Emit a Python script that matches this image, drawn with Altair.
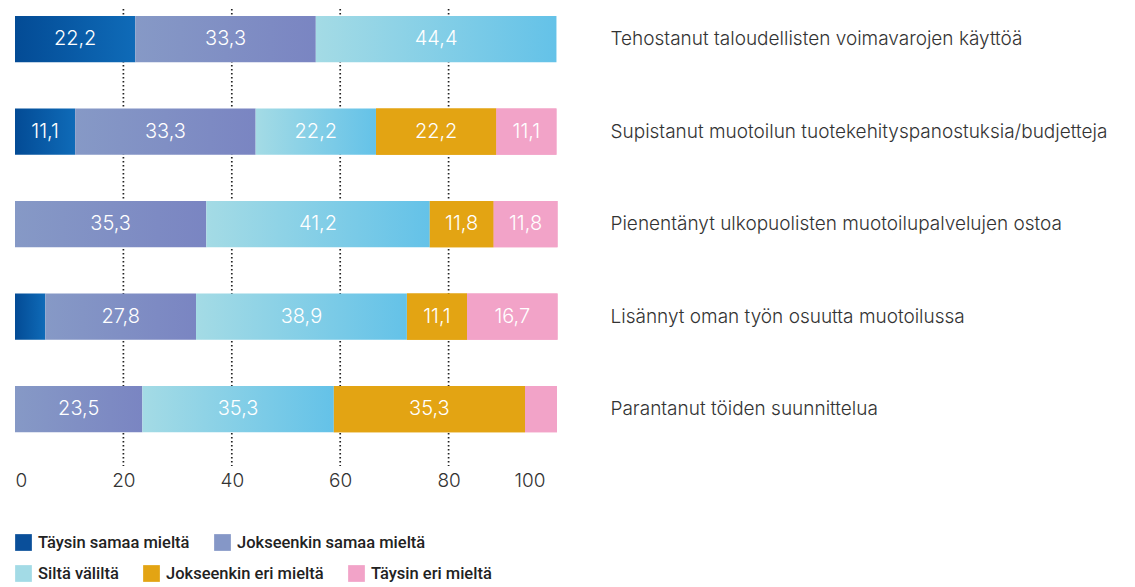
import altair as alt
import pandas as pd

categories = [
    "Tehostanut taloudellisten voimavarojen käyttöä",
    "Supistanut muotoilun tuotekehityspanostuksia/budjetteja",
    "Pienentänyt ulkopuolisten muotoilupalvelujen ostoa",
    "Lisännyt oman työn osuutta muotoilussa",
    "Parantanut töiden suunnittelua",
]
series = [
    "Täysin samaa mieltä",
    "Jokseenkin samaa mieltä",
    "Siltä väliltä",
    "Jokseenkin eri mieltä",
    "Täysin eri mieltä",
]
taysin_samaa = [22.2, 11.1, 0.0, 5.6, 0.0]
jokseenkin_samaa = [33.3, 33.3, 35.3, 27.8, 23.5]
silta_valilta = [44.4, 22.2, 41.2, 38.9, 35.3]
jokseenkin_eri = [0.0, 22.2, 11.8, 11.1, 35.3]
taysin_eri = [0.0, 11.1, 11.8, 16.7, 5.9]
x_ticks = [0, 20, 40, 60, 80, 100]
grid_vals = [20, 40, 60, 80]

flat_colors = ["#0a4f9a", "#8597c7", "#a3dbe6", "#e3a413", "#f2a3c8"]
gradients = {
    "Täysin samaa mieltä": ("#034b95", "#0f6bb8"),
    "Jokseenkin samaa mieltä": ("#8699c6", "#7a85c2"),
    "Siltä väliltä": ("#a4dbe5", "#64c2e8"),
}

rows = []
for vals, s in zip([taysin_samaa, jokseenkin_samaa, silta_valilta, jokseenkin_eri, taysin_eri], series):
    for c, v in zip(categories, vals):
        rows.append({"category": c, "series": s, "value": v, "order": series.index(s)})
df = pd.DataFrame(rows)

FONT = "Inter"
LEG_FONT = "Roboto"

y_enc = alt.Y(
    "category:N",
    sort=categories,
    scale=alt.Scale(paddingInner=0.5, paddingOuter=0.22, align=0.17),
    axis=alt.Axis(
        orient="right", title=None, domain=False, ticks=False, labelPadding=53,
        labelFontSize=19, labelFont=FONT, labelFontWeight=300, labelColor="#333333",
        labelLimit=700,
    ),
)
x_scale = alt.Scale(domain=[0, 100], nice=False, zero=True)
x_axis = alt.Axis(
    values=x_ticks, title=None, grid=False, domain=False, ticks=False, labelFlush=True,
    labelFontSize=19, labelFont=FONT, labelFontWeight=300, labelColor="#333333",
    labelPadding=5,
    labelOffset={"condition": {"test": "datum.value === 100", "value": -12}, "value": 0},
)

base = alt.Chart(df).transform_stack(
    stack="value", groupby=["category"], as_=["x0", "x1"],
    sort=[alt.SortField("order", order="ascending")],
)

rules = alt.Chart(pd.DataFrame({"v": grid_vals})).mark_rule(
    color="#222222", strokeDash=[1.6, 2.4], strokeWidth=1.7
).encode(x=alt.X("v:Q", scale=x_scale, axis=x_axis))

flat_filter = alt.FieldOneOfPredicate(field="series", oneOf=series[3:])

legend_style = dict(
    orient="none", legendX=0, direction="horizontal",
    symbolType="square", symbolSize=280, symbolStrokeWidth=0, symbolOpacity=1,
    labelFontSize=16.5, labelFont=LEG_FONT, labelFontWeight=500, labelColor="#222222",
    labelOffset=6, columnPadding=24, labelLimit=400,
)

bars_b = base.transform_filter(flat_filter).mark_bar(strokeWidth=0).encode(
    x=alt.X("x0:Q", scale=x_scale, axis=x_axis),
    x2="x1:Q",
    y=y_enc,
    fill=alt.Fill(
        "series:N",
        scale=alt.Scale(domain=series, range=flat_colors),
        legend=alt.Legend(legendY=525, values=series[:2], **legend_style),
        title=None,
    ),
)

bars_c = base.transform_filter(flat_filter).transform_calculate(
    series2="datum.series"
).mark_bar(strokeWidth=0).encode(
    x=alt.X("x0:Q", scale=x_scale, axis=x_axis),
    x2="x1:Q",
    y=y_enc,
    color=alt.Color(
        "series2:N",
        scale=alt.Scale(domain=series[2:], range=flat_colors[2:]),
        legend=alt.Legend(legendY=556, **legend_style),
        title=None,
    ),
)

grad_layers = []
for s, (c0, c1) in gradients.items():
    grad = alt.LinearGradient(
        gradient="linear",
        stops=[alt.GradientStop(color=c0, offset=0), alt.GradientStop(color=c1, offset=1)],
        x1=0, x2=1, y1=0, y2=0,
    )
    grad_layers.append(
        base.transform_filter(alt.datum.series == s).mark_bar(fill=grad, strokeWidth=0).encode(
            x=alt.X("x0:Q", scale=x_scale, axis=x_axis),
            x2="x1:Q",
            y=y_enc,
        )
    )

text = base.transform_filter(alt.datum.value >= 10).transform_calculate(
    mid="(datum.x0 + datum.x1) / 2",
    lbl="replace(format(datum.value, '.1f'), '.', ',')",
).mark_text(
    color="white", fontSize=20, font=FONT, fontWeight=300, baseline="middle", align="center"
).encode(
    x=alt.X("mid:Q", scale=x_scale, axis=x_axis),
    y=y_enc,
    text="lbl:N",
)

chart = alt.layer(rules, bars_b, bars_c, *grad_layers, text).properties(
    width=542,
    height=457,
    padding={"left": 7, "top": 0, "right": 0, "bottom": 0},
).configure_view(stroke=None)

chart.save("out.html", embed_options={"renderer": "svg", "actions": False})
